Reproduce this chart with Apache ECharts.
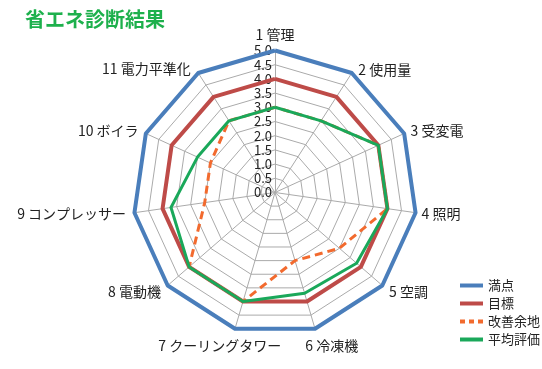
<!DOCTYPE html>
<html><head><meta charset="utf-8">
<script src="https://cdn.jsdelivr.net/npm/echarts@6/dist/echarts.min.js"></script>
<style>html,body{margin:0;padding:0;background:#fff}#c{width:542px;height:369px}</style>
</head><body><div id="c"></div>
<script>
const titleText = '省エネ診断結果';
const categories = ['1 管理','2 使用量','3 受変電','4 照明','5 空調','6 冷凍機','7 クーリングタワー','8 電動機','9 コンプレッサー','10 ボイラ','11 電力平準化'];
const seriesNames = ['満点','目標','改善余地','平均評価'];
const fullScore = [5,5,5,5,5,5,5,5,5,5,5];
const target = [4,4,4,4,4,4,4,4,4,4,4];
const improvement = [3.0,3.0,4.0,4.0,3.0,2.5,4.0,4.0,2.5,2.5,3.0];
const average = [3.0,3.0,4.0,4.0,3.8,3.7,4.0,4.0,3.7,3.0,3.0];
const maxValue = 5;

// per-indicator label placement tweaks (same order as categories)
const nameLayout = [
  {gap:9},
  {gap:12,style:{verticalAlign:'top'}},
  {gap:7},
  {gap:6},
  {gap:9},
  {gap:10,style:{align:'center',verticalAlign:'top',padding:[0,0,0,28]}},
  {gap:10,style:{align:'center',verticalAlign:'top',padding:[0,25,0,0]}},
  {gap:9},
  {gap:8.5},
  {gap:8},
  {gap:14,style:{verticalAlign:'top'}}
];

// ECharts radar runs counter-clockwise; reorder so indicators run clockwise
const order = [0].concat(categories.map((_, i) => i).slice(1).reverse());
const reorder = arr => order.map(i => arr[i]);
const FONT = '"Noto Sans CJK JP","Noto Sans",sans-serif';
const colors = ['#4a7ebb','#be4b48','#f26a2e','#1aa85a'];

const indicators = categories.map((n,i)=>{
  const o={name:n,min:0,max:maxValue,nameGap:nameLayout[i].gap};
  if(nameLayout[i].style){o.nameTextStyle=Object.assign({},nameLayout[i].style);}
  if(i===0){o.axisLabel={show:true};}
  return o;
});

const chart = echarts.init(document.getElementById('c'), null, {renderer:'canvas'});
chart.setOption({
  animation:false,
  title:{text:titleText,left:20,top:4,textStyle:{color:'#1db04c',fontSize:20,fontWeight:'bold',fontFamily:FONT}},
  legend:{
    orient:'vertical',left:455,top:274,itemWidth:23,itemHeight:4,itemGap:5,
    textStyle:{fontSize:13,color:'#222',fontFamily:FONT},
    data:[
      {name:seriesNames[0],icon:'path://M0,0h23v4h-23z'},
      {name:seriesNames[1],icon:'path://M0,0h23v4h-23z'},
      {name:seriesNames[2],icon:'path://M0,0h5v4h-5zM9,0h5v4h-5zM18,0h5v4h-5z'},
      {name:seriesNames[3],icon:'path://M0,0h23v4h-23z'}
    ]
  },
  radar:{
    center:[275,192.5],radius:142,startAngle:90,splitNumber:10,shape:'polygon',
    indicator:reorder(indicators),
    axisName:{color:'#222',fontSize:14,fontFamily:FONT},
    nameGap:10,
    axisLine:{lineStyle:{color:'#aaa',width:1}},
    splitLine:{lineStyle:{color:'#aaa',width:1}},
    splitArea:{show:false},
    axisTick:{show:false},
    axisLabel:{show:false,fontSize:13,color:'#222',fontFamily:FONT,margin:3,formatter:v=>v.toFixed(1)}
  },
  series:[{
    type:'radar',symbol:'none',
    data:[
      {name:seriesNames[0],value:reorder(fullScore),lineStyle:{color:colors[0],width:4},itemStyle:{color:colors[0]}},
      {name:seriesNames[1],value:reorder(target),lineStyle:{color:colors[1],width:4},itemStyle:{color:colors[1]}},
      {name:seriesNames[2],value:reorder(improvement),lineStyle:{color:colors[2],width:3,type:[8,5]},itemStyle:{color:colors[2]}},
      {name:seriesNames[3],value:reorder(average),lineStyle:{color:colors[3],width:3},itemStyle:{color:colors[3]}}
    ]
  }]
});
</script></body></html>
